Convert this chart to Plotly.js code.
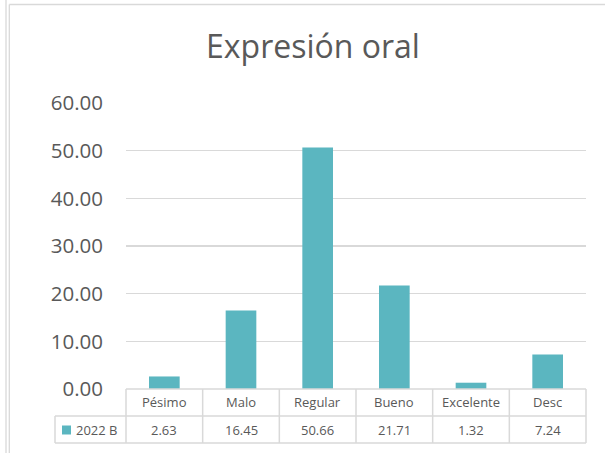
<!DOCTYPE html>
<html>
<head>
<meta charset="utf-8">
<script src="https://cdn.plot.ly/plotly-3.0.1.min.js"></script>
<style>
html,body{margin:0;padding:0;background:#fff;}
#chart{width:605px;height:453px;}
</style>
</head>
<body>
<div id="chart"></div>
<script>
var chartTitle = "Expresión oral";
var seriesName = "2022 B";
var categories = ["Pésimo", "Malo", "Regular", "Bueno", "Excelente", "Desc"];
var values = [2.63, 16.45, 50.66, 21.71, 1.32, 7.24];
var yTicks = [0, 10, 20, 30, 40, 50, 60];

var W = 605, H = 453;
var mL = 126, mR = 19, mT = 103, mB = 64;
var pw = W - mL - mR, ph = H - mT - mB;
function xp(X){ return (X - mL) / pw; }
function yp(Y){ return (H - mB - Y) / ph; }

var grid = '#d9d9d9';
var textCol = '#595959';
var barCol = '#5bb6c0';
var fontFam = '"Open Sans", "Noto Sans", sans-serif';

var shapes = [];
function line(x0, y0, x1, y1, w){
  shapes.push({type:'line', xref:'paper', yref:'paper', x0:xp(x0), y0:yp(y0), x1:xp(x1), y1:yp(y1),
    line:{color:grid, width:w||1.5}});
}
// chart border
line(6, 0, 6, 453, 1.3);
line(9.3, 4.5, 9.3, 453, 1.3);
line(9.3, 4.5, 605, 4.5, 1.3);
// data table
var n = categories.length;
line(mL, 389, mL + pw, 389);
line(55, 416, mL + pw, 416);
line(55, 443, mL + pw, 443);
line(55, 416, 55, 443);
for (var k = 0; k <= n; k++) {
  var X = mL + pw * k / n;
  line(X, 389, X, 443);
}
// legend key
shapes.push({type:'rect', xref:'paper', yref:'paper', x0:xp(62), x1:xp(71), y0:yp(425.5), y1:yp(434.5),
  fillcolor:barCol, line:{width:0}});

var annotations = [];
categories.forEach(function(c, i){
  annotations.push({x:c, xref:'x', y:yp(402), yref:'paper', text:c, showarrow:false,
    xanchor:'center', yanchor:'middle', font:{family:fontFam, size:13, color:textCol}});
  annotations.push({x:c, xref:'x', y:yp(430), yref:'paper', text:values[i].toFixed(2), showarrow:false,
    xanchor:'center', yanchor:'middle', font:{family:fontFam, size:13, color:textCol}});
});
annotations.push({x:xp(73.5), xref:'paper', y:yp(430), yref:'paper', text:seriesName, showarrow:false,
  xanchor:'left', yanchor:'middle', font:{family:fontFam, size:13, color:textCol}});

var trace = {
  type:'bar', x:categories, y:values, name:seriesName,
  marker:{color:barCol, line:{width:0}},
  hoverinfo:'x+y'
};

var layout = {
  width:W, height:H,
  margin:{l:mL, r:mR, t:mT, b:mB, pad:0},
  paper_bgcolor:'#ffffff', plot_bgcolor:'#ffffff',
  showlegend:false,
  bargap:0.6,
  font:{family:fontFam, color:textCol},
  title:{text:chartTitle, font:{family:fontFam, size:32, color:textCol},
    xref:'container', x:313/W, xanchor:'center', yref:'container', y:1 - 47/H, yanchor:'middle'},
  xaxis:{type:'category', showticklabels:false, showgrid:false, zeroline:false, showline:false,
    ticks:'', range:[-0.5, n - 0.5]},
  yaxis:{range:[0, 60], tickvals:yTicks, tickformat:'.2f', showgrid:true, gridcolor:grid, gridwidth:1.3,
    zeroline:false, showline:false, ticks:'', ticklabelstandoff:22,
    tickfont:{family:fontFam, size:20.5, color:textCol}},
  shapes:shapes,
  annotations:annotations
};

Plotly.newPlot('chart', [trace], layout, {displayModeBar:false, staticPlot:true});
</script>
</body>
</html>
